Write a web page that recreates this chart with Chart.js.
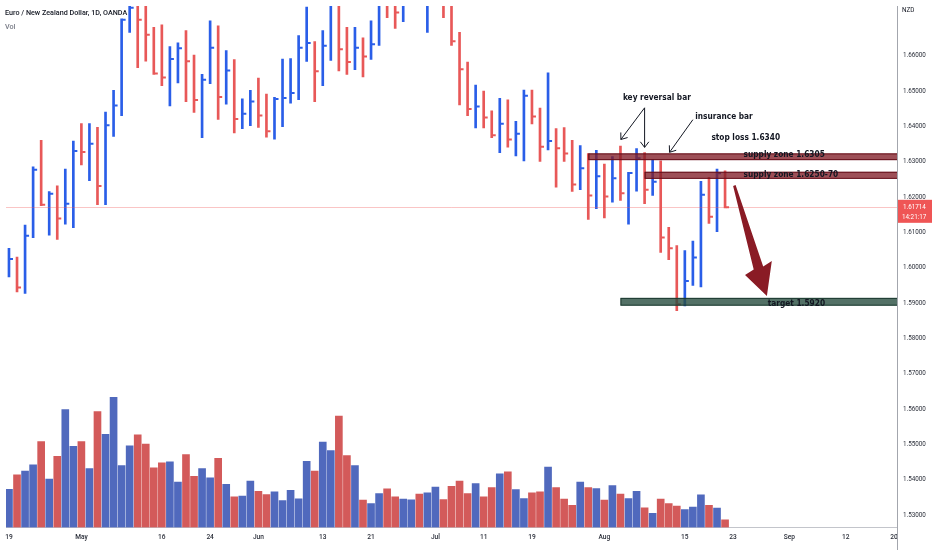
<!DOCTYPE html>
<html>
<head>
<meta charset="utf-8">
<script src="https://cdn.jsdelivr.net/npm/chart.js@4.4.0/dist/chart.umd.min.js"></script>
<style>
  html, body { margin: 0; padding: 0; background: #fff; }
</style>
</head>
<body>
<canvas id="chart" width="932" height="550"></canvas>
<script>
// EUR/NZD daily, 19 Apr - 22 Aug (index 0 = 19 Apr, one step per trading day)
const highs = [1.60556,1.60305,1.61209,1.62860,1.63607,1.62160,1.62320,1.62795,1.63588,1.64083,
  1.64083,1.63979,1.64410,1.65026,1.67050,1.67973,1.67833,1.67553,1.66806,1.66882,
  1.66266,1.66369,1.66714,1.66022,1.65482,1.66994,1.66854,1.66154,1.65894,1.64783,
  1.65026,1.65370,1.64922,1.64830,1.65910,1.65922,1.66574,1.67385,1.66406,1.66714,
  1.67750,1.67700,1.66806,1.66806,1.66509,1.66994,1.68300,1.68350,1.67900,1.68200,
  1.68800,1.68700,1.68500,1.69000,1.68600,1.68000,1.66666,1.65826,1.65174,1.65006,
  1.64447,1.64802,1.64755,1.64147,1.65034,1.65034,1.64522,1.65519,1.63943,1.63971,
  1.63607,1.63459,1.63235,1.63327,1.62935,1.63151,1.63448,1.62703,1.63375,1.63263,
  1.63075,1.63028,1.61144,1.60632,1.60492,1.60761,1.62451,1.62563,1.62795,1.62748];
const lows = [1.59745,1.59317,1.59278,1.60856,1.61760,1.60929,1.60808,1.61237,1.61136,1.62916,
  1.62468,1.61788,1.61788,1.63719,1.64307,1.66666,1.65670,1.65854,1.65474,1.65155,
  1.64587,1.65239,1.64707,1.64399,1.63683,1.65211,1.64203,1.64634,1.63823,1.63943,
  1.64027,1.63979,1.63699,1.63643,1.63999,1.64662,1.64763,1.65846,1.64707,1.65155,
  1.65874,1.65575,1.65474,1.65614,1.65407,1.65902,1.66294,1.67086,1.66778,1.66966,
  1.67600,1.67700,1.66666,1.67800,1.67086,1.66294,1.64615,1.64307,1.63963,1.63963,
  1.63683,1.63263,1.63420,1.63168,1.63028,1.64075,1.63011,1.63336,1.62283,1.63011,
  1.62166,1.62216,1.61368,1.61676,1.61416,1.61863,1.61908,1.61237,1.62171,1.61816,
  1.62048,1.60436,1.60229,1.58785,1.58925,1.59501,1.59457,1.61256,1.61024,1.61700];
const closes = [1.60249,1.59445,1.60912,1.62776,1.61788,1.62096,1.61396,1.61816,1.63308,1.63280,
  1.63515,1.62320,1.64035,1.64595,1.67022,1.67366,1.67022,1.66602,1.65502,1.65390,
  1.65910,1.66218,1.65846,1.64755,1.65323,1.66229,1.64839,1.65586,1.64214,1.64363,
  1.64707,1.64315,1.63867,1.64783,1.64811,1.64950,1.66229,1.66369,1.65566,1.66285,
  1.67600,1.66190,1.65826,1.66229,1.65986,1.66330,1.68000,1.67600,1.67226,1.67800,
  1.68300,1.68000,1.68150,1.68500,1.67900,1.66414,1.65622,1.64494,1.64567,1.64259,
  1.63755,1.64083,1.63635,1.63795,1.64875,1.64287,1.63431,1.63588,1.63383,1.63235,
  1.62362,1.62818,1.62048,1.62591,1.62020,1.62535,1.62115,1.62684,1.63103,1.62208,
  1.62440,1.60856,1.60556,1.58970,1.59625,1.60296,1.62068,1.61444,1.62675,1.61714];
const closeBefore = 1.59850;
const volumes = [38.7,53.3,57,63.3,87,49,72,119.3,82,87,
  59.7,117.3,94.3,131.7,62.7,82.7,93.7,84.3,60.3,65.3,
  66.3,46,73.7,51.7,59.7,50.3,70,43.7,31,31.7,
  47,36.7,33.3,36,27.3,37.7,29,67,57,86.3,
  77.7,112.7,72.7,62.7,27.7,24.3,34.3,39,31,28.7,
  28,33.7,35,41,28.3,41.7,47,34.3,44.3,31,
  40.3,54.3,56.3,38.3,29.3,35,36,61,40.3,28.7,
  22.3,46,40.3,39.3,27.7,42.3,33.7,29.3,36.7,20,
  14.3,28.7,24.3,21.7,18,20.7,33,22.3,19.7,7.7];

const xTickPos  = [0, 9, 19, 25, 31, 39, 45, 53, 59, 65, 74, 84, 90, 97, 104, 110];
const xTickText = ['19','May','16','24','Jun','13','21','Jul','11','19','Aug','15','23','Sep','12','20'];
const yTickVals = [1.53,1.54,1.55,1.56,1.57,1.58,1.59,1.60,1.61,1.62,1.63,1.64,1.65,1.66];
const countdown = '14:21:17';

// drawings on the chart
const zones = [
  { from: 72, lo: 1.6305, hi: 1.6324, fill: 'rgba(130,30,40,0.78)', line: 'rgba(100,15,25,0.95)' },
  { from: 79, lo: 1.6252, hi: 1.6272, fill: 'rgba(130,30,40,0.78)', line: 'rgba(100,15,25,0.95)' },
  { from: 76, lo: 1.5893, hi: 1.5915, fill: 'rgba(40,78,64,0.8)',   line: 'rgba(25,55,45,0.95)' }
];
const notes = [
  { text: 'key reversal bar',      at: 76.3, price: 1.64830 },
  { text: 'insurance bar',         at: 85.3, price: 1.64279 },
  { text: 'stop loss 1.6340',      at: 87.3, price: 1.63700 },
  { text: 'supply zone 1.6305',    at: 91.3, price: 1.63196 },
  { text: 'supply zone 1.6250-70', at: 91.3, price: 1.62628 },
  { text: 'target 1.5920',         at: 94.3, price: 1.58997 }
];
const pointers = [
  [79.0, 1.64531, 76.05, 1.63635],
  [79.0, 1.64531, 79.0, 1.63411],
  [85.0, 1.64195, 82.1, 1.63271]
];
const bigArrow = [[90.0,1.62320],[90.31,1.62348],[93.74,1.60036],[94.81,1.60193],
  [94.20,1.59205],[91.48,1.59801],[92.56,1.59957]];

const BLUE = '#2a5ee8', RED = '#e85858';
const VBLUE = '#5069bd', VRED = '#d35a5a';
const up = closes.map((c, i) => c >= (i ? closes[i - 1] : closeBefore));
const idx = closes.map((c, i) => i);
const FONT = 'Roboto, "DejaVu Sans", sans-serif';
const NOTE_FONT = '600 9.4px "DejaVu Sans", sans-serif';

const drawings = {
  id: 'drawings',
  afterDatasetsDraw(chart) {
    const { ctx, chartArea: a, scales: { x, y } } = chart;
    ctx.save();
    ctx.beginPath();
    ctx.rect(a.left, a.top, a.right - a.left, a.bottom - a.top);
    ctx.clip();

    // last price line
    const yc = y.getPixelForValue(closes[closes.length - 1]);
    ctx.strokeStyle = 'rgba(240,90,90,0.35)';
    ctx.lineWidth = 1;
    ctx.beginPath(); ctx.moveTo(a.left, Math.round(yc) + 0.5); ctx.lineTo(a.right, Math.round(yc) + 0.5); ctx.stroke();

    zones.forEach(z => {
      const x0 = x.getPixelForValue(z.from);
      const y0 = y.getPixelForValue(z.hi), y1 = y.getPixelForValue(z.lo);
      ctx.fillStyle = z.fill;
      ctx.fillRect(x0, y0, a.right - x0, y1 - y0);
      ctx.strokeStyle = z.line;
      ctx.lineWidth = 1;
      ctx.strokeRect(x0 + 0.5, y0 + 0.5, a.right - x0, y1 - y0 - 1);
    });

    // condensed text for the notes
    ctx.fillStyle = '#131722';
    ctx.font = NOTE_FONT;
    ctx.fontStretch = 'condensed';
    ctx.textBaseline = 'middle';
    notes.forEach(n => {
      const px = x.getPixelForValue(n.at), py = y.getPixelForValue(n.price);
      ctx.save();
      ctx.translate(px, py);
      ctx.scale(0.88, 1);
      ctx.fillText(n.text, 0, 0);
      ctx.restore();
    });

    ctx.strokeStyle = '#131722';
    ctx.lineWidth = 1;
    pointers.forEach(p => {
      const x0 = x.getPixelForValue(p[0]), y0 = y.getPixelForValue(p[1]);
      const x1 = x.getPixelForValue(p[2]), y1 = y.getPixelForValue(p[3]);
      const ang = Math.atan2(y1 - y0, x1 - x0);
      ctx.beginPath();
      ctx.moveTo(x0, y0); ctx.lineTo(x1, y1);
      [-0.65, 0.65].forEach(d => {
        ctx.moveTo(x1, y1);
        ctx.lineTo(x1 - 7 * Math.cos(ang + d), y1 - 7 * Math.sin(ang + d));
      });
      ctx.stroke();
    });

    ctx.fillStyle = '#8a1b25';
    ctx.beginPath();
    bigArrow.forEach((pt, k) => {
      const px = x.getPixelForValue(pt[0]), py = y.getPixelForValue(pt[1]);
      if (k) ctx.lineTo(px, py); else ctx.moveTo(px, py);
    });
    ctx.closePath();
    ctx.fill();
    ctx.restore();
  },
  afterDraw(chart) {
    const { ctx, chartArea: a, scales: { y } } = chart;
    ctx.save();
    ctx.strokeStyle = '#a3a6ad';
    ctx.lineWidth = 1;
    ctx.beginPath(); ctx.moveTo(a.right + 0.5, a.bottom); ctx.lineTo(a.right + 0.5, chart.height); ctx.stroke();

    const last = closes[closes.length - 1];
    const yc = y.getPixelForValue(last);
    ctx.fillStyle = '#ef5555';
    ctx.fillRect(a.right + 1, yc - 7.5, chart.width - a.right - 1, 23);
    ctx.fillStyle = '#fff';
    ctx.font = '6.3px ' + FONT;
    ctx.textBaseline = 'middle';
    ctx.fillText(last.toFixed(5), a.right + 6, yc);
    ctx.fillText(countdown, a.right + 5, yc + 10);

    ctx.fillStyle = '#131722';
    ctx.fillText('NZD', a.right + 5, 10.5);
    ctx.font = '500 7.2px ' + FONT;
    ctx.fillText('Euro / New Zealand Dollar, 1D, OANDA', 5, 13.3);
    ctx.fillStyle = '#787b86';
    ctx.fillText('Vol', 5, 26.7);
    ctx.restore();
  }
};

new Chart(document.getElementById('chart'), {
  type: 'bar',
  data: {
    datasets: [
      {
        type: 'line',
        data: idx.map(i => ({ x: i + 0.3, y: closes[i] })),
        showLine: false,
        pointStyle: 'line',
        pointRadius: 1.6,
        pointBorderWidth: 2,
        pointBorderColor: up.map(u => u ? BLUE : RED),
        pointBackgroundColor: up.map(u => u ? BLUE : RED),
        yAxisID: 'y',
        order: 1
      },
      {
        data: idx.map(i => ({ x: i, y: [lows[i], highs[i]] })),
        backgroundColor: up.map(u => u ? BLUE : RED),
        barThickness: 2,
        grouped: false,
        borderSkipped: false,
        yAxisID: 'y',
        order: 2
      },
      {
        data: idx.map(i => ({ x: i, y: volumes[i] })),
        backgroundColor: up.map(u => u ? VBLUE : VRED),
        barThickness: 7,
        grouped: false,
        yAxisID: 'yv',
        order: 3
      }
    ]
  },
  options: {
    responsive: false,
    animation: false,
    events: [],
    layout: { padding: 0 },
    plugins: { legend: { display: false }, tooltip: { enabled: false } },
    scales: {
      x: {
        type: 'linear',
        min: -0.37,
        max: 110.37,
        offset: false,
        grid: { display: false, drawTicks: false },
        border: { display: true, color: '#c3c5cb' },
        afterBuildTicks: s => { s.ticks = xTickPos.map(v => ({ value: v })); },
        afterFit: s => { s.height = 22.5; s.paddingLeft = 0; s.paddingRight = 0; },
        ticks: {
          autoSkip: false,
          maxRotation: 0,
          padding: 6,
          color: '#2a2e39',
          font: { family: FONT, size: 6.6, weight: '500' },
          callback: v => xTickText[xTickPos.indexOf(v)]
        }
      },
      y: {
        position: 'right',
        min: 1.5265,
        max: 1.67413,
        grid: { display: false, drawTicks: false },
        border: { display: true, color: '#a3a6ad' },
        afterBuildTicks: s => { s.ticks = yTickVals.map(v => ({ value: v })); },
        afterFit: s => { s.width = 35; s.paddingTop = 0; s.paddingBottom = 0; },
        ticks: {
          padding: 6,
          color: '#2a2e39',
          font: { family: FONT, size: 6.3 },
          callback: v => v.toFixed(5)
        }
      },
      yv: { display: false, min: 0, max: 527.5 }
    }
  },
  plugins: [drawings]
});
</script>
</body>
</html>
